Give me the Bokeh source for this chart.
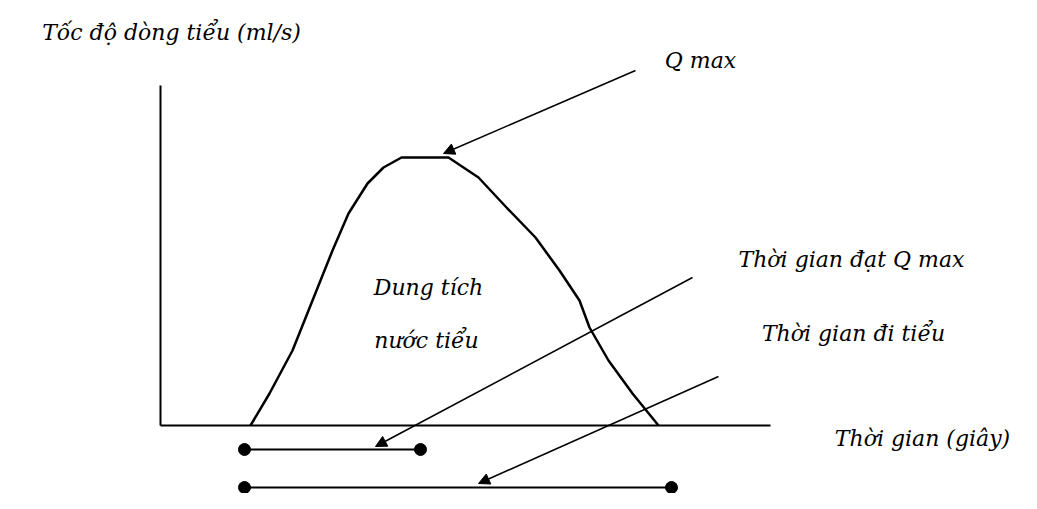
from bokeh.plotting import figure
from bokeh.models import Range1d, Arrow, NormalHead, ColumnDataSource
from bokeh.core.properties import value
from bokeh.embed import file_html
from bokeh.resources import INLINE

# Flow curve (schematic): time (s) vs flow rate (ml/s)
curve_time = [4.5, 5.45, 6.6, 7.6, 8.6, 9.4, 10.35, 11.15, 12.05, 14.4,
              15.9, 17.3, 18.75, 19.95, 20.95, 21.45, 22.4, 23.6, 24.9]
curve_flow = [0.0, 1.6, 3.75, 6.25, 8.75, 10.6, 12.1, 12.9, 13.4, 13.4,
              12.4, 10.9, 9.4, 7.75, 6.25, 4.9, 3.25, 1.6, 0.0]

# Axis extents
axis_x_max = 30.5
axis_y_max = 17.0

# Time intervals shown below the axis
t_start = 4.2
t_qmax = 13.0
t_end = 25.55
interval_levels = [-1.2, -3.1]

# Labels
title_label = "Tốc độ dòng tiểu (ml/s)"
qmax_label = "Q max"
volume_labels = ["Dung tích", "nước tiểu"]
tqmax_label = "Thời gian đạt Q max"
tvoid_label = "Thời gian đi tiểu"
xaxis_label = "Thời gian (giây)"

p = figure(width=1021, height=493, x_range=Range1d(-8.0, 43.05),
           y_range=Range1d(-3.4, 21.25), output_backend="svg",
           toolbar_location=None, min_border=0,
           min_border_left=0, min_border_right=0, min_border_top=0, min_border_bottom=0)
p.axis.visible = False
p.grid.visible = False
p.outline_line_color = None
p.background_fill_color = "white"
p.border_fill_color = "white"

# Axes lines
p.line([0, 0], [0, axis_y_max], line_color="black", line_width=2)
p.line([0, axis_x_max], [0, 0], line_color="black", line_width=2)

# Curve
p.line(curve_time, curve_flow, line_color="black", line_width=2.5, line_join="round")

# Interval bars with dots
p.line([t_start, t_qmax], [interval_levels[0]] * 2, line_color="black", line_width=2)
p.line([t_start, t_end], [interval_levels[1]] * 2, line_color="black", line_width=2)
p.scatter([t_start, t_qmax, t_start, t_end],
          [interval_levels[0], interval_levels[0], interval_levels[1], interval_levels[1]],
          size=12, color="black")

# Arrows
def arrow(x0, y0, x1, y1):
    p.add_layout(Arrow(end=NormalHead(size=11, fill_color="black", line_color="black"),
                       x_start=x0, y_start=y0, x_end=x1, y_end=y1,
                       line_color="black", line_width=1.6))

arrow(23.75, 17.75, 14.15, 13.6)
arrow(26.6, 7.4, 10.75, interval_levels[0] + 0.15)
arrow(27.9, 2.45, 15.9, interval_levels[1] + 0.2)

# Texts
txt = ColumnDataSource(dict(
    x=[0.55, 27.0, 13.4, 13.3, 34.55, 34.65, 38.1],
    y=[19.65, 18.25, 6.9, 4.25, 8.3, 4.6, -0.65],
    t=[title_label, qmax_label, volume_labels[0], volume_labels[1],
       tqmax_label, tvoid_label, xaxis_label],
))
p.text(x="x", y="y", text="t", source=txt, text_font=value("DejaVu Serif"),
       text_font_style="italic", text_font_size="22px", text_align="center",
       text_baseline="middle", text_color="black")

open("out.html", "w").write(file_html(p, INLINE))
